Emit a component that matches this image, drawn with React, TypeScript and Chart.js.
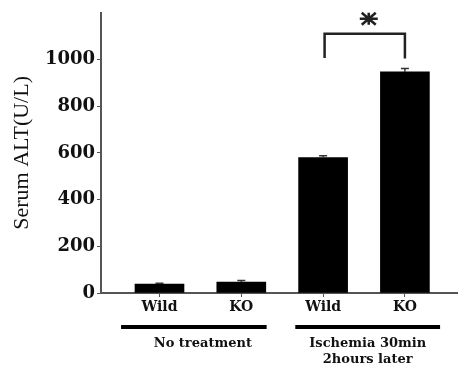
import React, { useEffect, useRef } from "react";
import { Chart, registerables } from "chart.js";

Chart.register(...registerables);

const categories = ["Wild", "KO", "Wild", "KO"];
const values = [38, 47, 580, 947];
const errors = [4, 7, 8, 14];
const yTicks = [0, 200, 400, 600, 800, 1000];
const groupLabels = [["No treatment"], ["Ischemia 30min", "2hours later"]];
const groupMembers = [[1, 2], [3, 4]];
const bracketPair = [3, 4];
const bracketTop = 1110;
const bracketLegEnds = [1006, 1004];

const App = () => {
  const ref = useRef<HTMLCanvasElement | null>(null);

  useEffect(() => {
    if (!ref.current) return;
    const extras = {
      id: "extras",
      afterDatasetsDraw(chart: any) {
        const ctx = chart.ctx;
        const xs = chart.scales.x;
        const ys = chart.scales.y;
        ctx.save();
        // error bars
        ctx.strokeStyle = "#333";
        ctx.lineWidth = 1.5;
        values.forEach((v, i) => {
          const x = xs.getPixelForValue(i + 1);
          const y0 = ys.getPixelForValue(v);
          const y1 = ys.getPixelForValue(v + errors[i]);
          ctx.beginPath();
          ctx.moveTo(x, y0);
          ctx.lineTo(x, y1);
          ctx.moveTo(x - 4, y1);
          ctx.lineTo(x + 4, y1);
          ctx.stroke();
        });
        // bracket
        const bx1 = xs.getPixelForValue(bracketPair[0]) + 1.5;
        const bx2 = xs.getPixelForValue(bracketPair[1]);
        const by = ys.getPixelForValue(bracketTop);
        ctx.strokeStyle = "#222";
        ctx.lineWidth = 2.5;
        ctx.beginPath();
        ctx.moveTo(bx1, ys.getPixelForValue(bracketLegEnds[0]));
        ctx.lineTo(bx1, by);
        ctx.lineTo(bx2, by);
        ctx.lineTo(bx2, ys.getPixelForValue(bracketLegEnds[1]));
        ctx.stroke();
        // asterisk (three strokes)
        const cx = (bx1 + bx2) / 2 + 4;
        const cy = by - 15;
        ctx.lineWidth = 2.6;
        ctx.strokeStyle = "#222";
        ctx.beginPath();
        ctx.moveTo(cx - 9, cy);
        ctx.lineTo(cx + 9, cy);
        ctx.moveTo(cx - 7, cy - 6);
        ctx.lineTo(cx + 7, cy + 6);
        ctx.moveTo(cx - 7, cy + 6);
        ctx.lineTo(cx + 7, cy - 6);
        ctx.moveTo(cx, cy - 6);
        ctx.lineTo(cx, cy + 6);
        ctx.stroke();
        // group lines & labels
        const lineY = 327;
        const spans = [
          [-0.47, 0.31],
          [-0.34, 0.43],
        ];
        const labelShift = [0.11, 0.0];
        ctx.lineWidth = 4;
        ctx.strokeStyle = "#000";
        ctx.font = "bold 13px 'DejaVu Serif'";
        ctx.fillStyle = "#111";
        ctx.textAlign = "center";
        ctx.textBaseline = "middle";
        groupMembers.forEach((m, gi) => {
          const a = m[0] + spans[gi][0];
          const b = m[m.length - 1] + spans[gi][1];
          const xa = xs.getPixelForValue(a);
          const xb = xs.getPixelForValue(b);
          ctx.beginPath();
          ctx.moveTo(xa, lineY);
          ctx.lineTo(xb, lineY);
          ctx.stroke();
          const lc = xs.getPixelForValue((a + b) / 2 + labelShift[gi]);
          groupLabels[gi].forEach((t, li) => {
            ctx.fillText(t, lc, 344 + li * 16);
          });
        });
        ctx.restore();
      },
    };

    const chart = new Chart(ref.current, {
      type: "bar",
      data: {
        datasets: [
          {
            data: values.map((v, i) => ({ x: i + 1, y: v })),
            backgroundColor: "#000",
            borderWidth: 0,
            barThickness: 49,
          },
        ],
      },
      options: {
        animation: false,
        responsive: false,
        layout: { padding: { top: 8, right: 0, left: 0, bottom: 0 } },
        plugins: { legend: { display: false }, tooltip: { enabled: false } },
        scales: {
          x: {
            type: "linear",
            offset: false,
            min: 0.285,
            max: 4.649,
            afterBuildTicks: (s: any) => {
              s.ticks = categories.map((_, i) => ({ value: i + 1 }));
            },
            afterFit: (s: any) => {
              s.height = 78;
            },
            grid: { offset: false, drawOnChartArea: false, drawTicks: true, tickLength: 4, color: "#555" },
            border: { display: true, color: "#555", width: 2 },
            ticks: {
              autoSkip: false,
              maxRotation: 0,
              padding: 2,
              color: "#111",
              font: { family: "'DejaVu Serif'", weight: "bold", size: 14 },
              callback: (v: any) => categories[Math.round(v) - 1] ?? "",
            },
          },
          y: {
            min: 0,
            max: 1200,
            afterBuildTicks: (s: any) => {
              s.ticks = yTicks.map((v) => ({ value: v }));
            },
            afterFit: (s: any) => {
              s.width = 101;
            },
            grid: { drawOnChartArea: false, drawTicks: true, tickLength: 4, color: "#555" },
            border: { display: true, color: "#555", width: 2 },
            ticks: {
              padding: 2,
              color: "#111",
              font: { family: "'DejaVu Serif'", weight: "bold", size: 18 },
              callback: (v: any) => String(v),
            },
            title: {
              display: true,
              text: "Serum ALT(U/L)",
              color: "#111",
              font: { family: "'Liberation Serif'", size: 22 },
              padding: { top: 9, bottom: 0 },
            },
          },
        },
      },
      plugins: [extras],
    });
    return () => chart.destroy();
  }, []);

  return (
    <div style={{ position: "fixed", left: 0, top: 0, width: 458, height: 371, background: "#fff" }}>
      <canvas ref={ref} width={458} height={371} style={{ display: "block" }} />
    </div>
  );
};

export default App;
